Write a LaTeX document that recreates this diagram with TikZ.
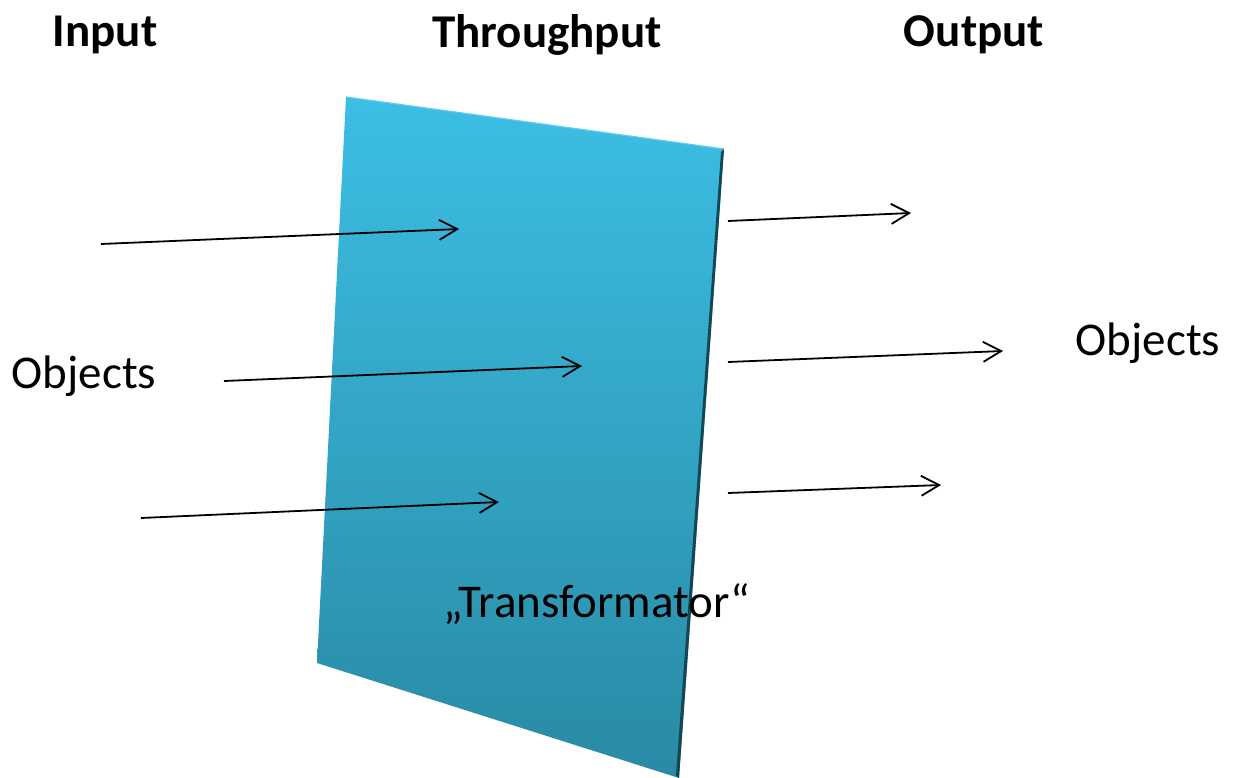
\documentclass[tikz,border=0pt]{standalone}
\usepackage{fontspec}
\setmainfont{Carlito}
\usetikzlibrary{arrows.meta,calc}
\definecolor{paneltop}{RGB}{60,190,228}
\definecolor{panelbot}{RGB}{41,138,164}
\definecolor{paneledge}{RGB}{20,70,85}
\tikzset{
  head/.style={font=\fontsize{47}{50}\selectfont\bfseries, inner sep=0pt, anchor=center},
  label/.style={font=\fontsize{47}{50}\selectfont, inner sep=0pt, anchor=center},
  flow/.style={-{Straight Barb[length=18pt,width=20pt,line width=1.8pt]}, line width=1.8pt, black},
}
\begin{document}
\begin{tikzpicture}[x=1pt,y=-1pt]
\useasboundingbox (0,0) rectangle (1234,778);
\fill[white] (0,0) rectangle (1234,778);

% the transformer panel
\coordinate (tl) at (346,97);
\coordinate (tr) at (724,149);
\coordinate (br) at (679,778);
\coordinate (bl) at (317,663);
\shade[top color=paneltop, bottom color=panelbot, shading angle=0]
  (tl) -- (tr) -- (br) -- (bl) -- cycle;
% bevel: light upper rim and dark right rim
\draw[paneltop!80!white, line width=1.2pt] (tl) -- (tr);
\fill[paneledge] (tr) -- (br) -- ($(br)+(-3,-2)$) -- ($(tr)+(-3,3)$) -- cycle;

% headings
\node[head] (in)  at (105,35) {Input};
\node[head] (thr) at (547,35) {Throughput};
\node[head] (out) at (974,35) {Output};

% labels
\node[label] (objin)  at (84,376)   {Objects};
\node[label] (objout) at (1148,343) {Objects};
\node[label] (trans)  at (597,604)  {„Transformator“};

% incoming objects
\coordinate (a1s) at (101,244); \coordinate (a1e) at (459,229);
\coordinate (a2s) at (224,381); \coordinate (a2e) at (582,366);
\coordinate (a3s) at (141,518); \coordinate (a3e) at (499,502);
\draw[flow] (a1s) -- (a1e);
\draw[flow] (a2s) -- (a2e);
\draw[flow] (a3s) -- (a3e);

% outgoing objects
\coordinate (b1s) at (728,221); \coordinate (b1e) at (911,213);
\coordinate (b2s) at (728,362); \coordinate (b2e) at (1003,351);
\coordinate (b3s) at (728,493); \coordinate (b3e) at (941,485);
\draw[flow] (b1s) -- (b1e);
\draw[flow] (b2s) -- (b2e);
\draw[flow] (b3s) -- (b3e);
\end{tikzpicture}
\end{document}
